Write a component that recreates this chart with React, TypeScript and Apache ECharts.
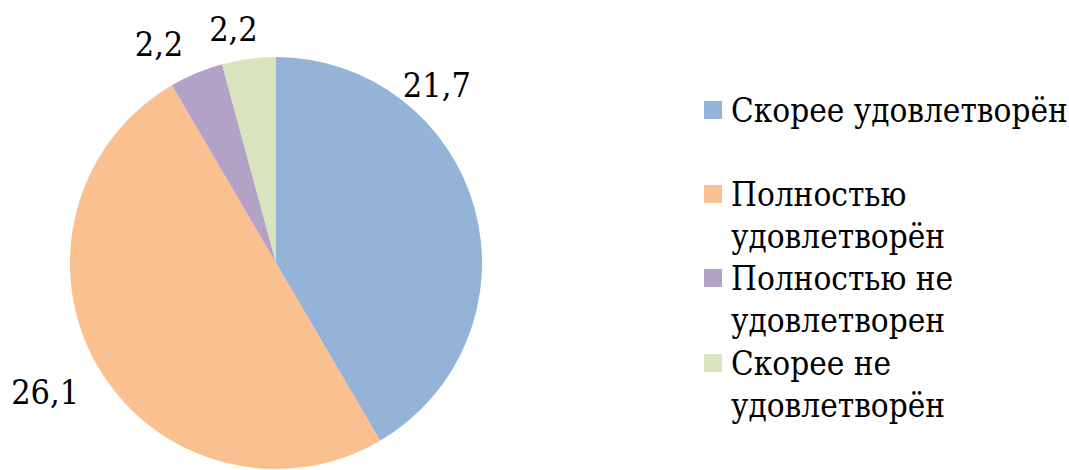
import React, { useEffect, useRef } from 'react';
import * as echarts from 'echarts';

const categories = [
  'Скорее удовлетворён',
  'Полностью удовлетворён',
  'Полностью не удовлетворен',
  'Скорее не удовлетворён',
];
const values = [21.7, 26.1, 2.2, 2.2];
const legendLabels = [
  'Скорее удовлетворён',
  'Полностью\nудовлетворён',
  'Полностью не\nудовлетворен',
  'Скорее не\nудовлетворён',
];
const colors = ['#95B3D7', '#FAC090', '#B3A2C7', '#D7E4BD'];
const labelOffsets = [
  [-77, -124],
  [-14, 25],
  [-8, -29],
  [14, -30],
];
const legendTops = [89, 131, 215, 300];

const FONT = 'DejaVu Serif Condensed';

export default function App() {
  const ref = useRef<HTMLDivElement>(null);
  useEffect(() => {
    const chart = echarts.init(ref.current!, null, { renderer: 'svg' });
    chart.setOption({
      animation: false,
      backgroundColor: '#ffffff',
      textStyle: { fontFamily: FONT },
      legend: categories.map((name, i) => {
        const multi = legendLabels[i].indexOf('\n') >= 0;
        return {
          data: [name],
          orient: 'vertical',
          left: 704,
          top: legendTops[i],
          padding: 0,
          icon: 'rect',
          itemWidth: 18,
          itemHeight: 18,
          selectedMode: false,
          formatter: () => (multi ? '\n' : '') + legendLabels[i],
          textStyle: {
            fontFamily: FONT,
            fontSize: 33,
            lineHeight: 42,
            color: '#000000',
            padding: [0, 0, 0, 4],
          },
        };
      }),
      series: [
        {
          type: 'pie',
          center: [276, 263],
          radius: 206,
          startAngle: 90,
          clockwise: true,
          avoidLabelOverlap: false,
          silent: true,
          emphasis: { disabled: true },
          itemStyle: { borderWidth: 0 },
          data: categories.map((n, i) => ({
            name: n,
            value: values[i],
            itemStyle: { color: colors[i] },
          })),
          label: {
            show: true,
            position: 'outside',
            formatter: (p: any) => Number(p.value).toFixed(1).replace('.', ','),
            fontFamily: FONT,
            fontSize: 34,
            color: '#000000',
          },
          labelLine: { show: false, length: 0, length2: 0 },
          labelLayout: (p: any) => ({
            dx: labelOffsets[p.dataIndex][0],
            dy: labelOffsets[p.dataIndex][1],
          }),
        },
      ],
    });
    return () => chart.dispose();
  }, []);
  return (
    <div
      ref={ref}
      style={{ position: 'fixed', left: 0, top: 0, width: 1069, height: 470, background: '#fff' }}
    />
  );
}
